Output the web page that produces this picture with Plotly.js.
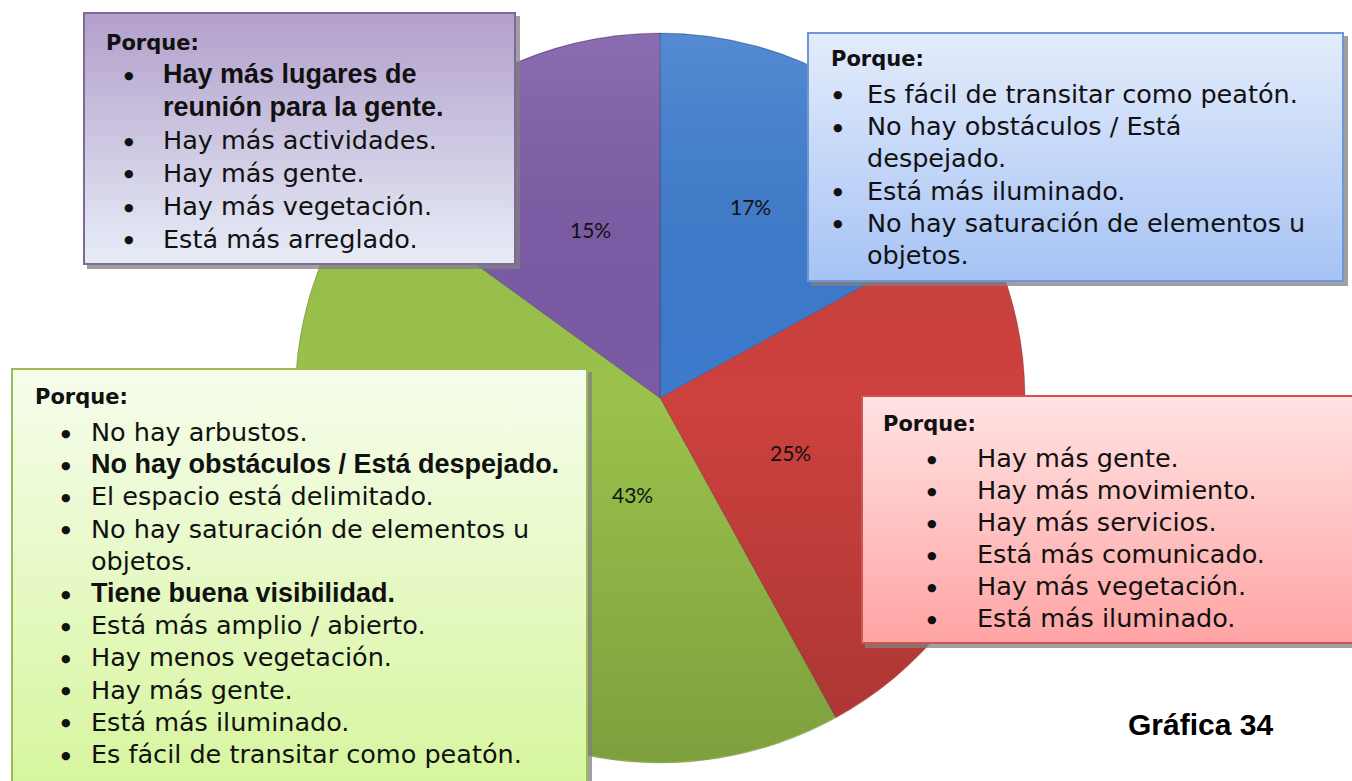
<!DOCTYPE html>
<html>
<head>
<meta charset="utf-8">
<script src="https://cdn.plot.ly/plotly-3.0.1.min.js"></script>
<style>
  body { margin: 0; background: #fff; }
  #grafica { width: 1352px; height: 781px; }
</style>
</head>
<body>
<div id="grafica"></div>
<script>
// datos de la gráfica (orden horario desde las 12)
var categorias = ['Azul', 'Rojo', 'Verde', 'Morado'];
var porcentajes = [17, 25, 43, 15];
var colores = ['#3d7bcd', '#cd413e', '#9ac24b', '#7b5aa6'];

// razones de cada recuadro ("\n" = la frase sigue en otra linea)
var razonesMorado = [
  '<b>Hay más lugares de</b>\n<b>reunión para la gente.</b>',
  'Hay más actividades.',
  'Hay más gente.',
  'Hay más vegetación.',
  'Está más arreglado.'
];
var razonesAzul = [
  'Es fácil de transitar como peatón.',
  'No hay obstáculos / Está\ndespejado.',
  'Está más iluminado.',
  'No hay saturación de elementos u\nobjetos.'
];
var razonesRojo = [
  'Hay más gente.',
  'Hay más movimiento.',
  'Hay más servicios.',
  'Está más comunicado.',
  'Hay más vegetación.',
  'Está más iluminado.'
];
var razonesVerde = [
  'No hay arbustos.',
  '<b>No hay obstáculos / Está despejado.</b>',
  'El espacio está delimitado.',
  'No hay saturación de elementos u\nobjetos.',
  '<b>Tiene buena visibilidad.</b>',
  'Está más amplio / abierto.',
  'Hay menos vegetación.',
  'Hay más gente.',
  'Está más iluminado.',
  'Es fácil de transitar como peatón.'
];

var W = 1352, H = 781;
function px(x) { return x / W; }
function py(y) { return 1 - y / H; }

var fuente = 'DejaVu Sans, sans-serif';
var fuenteNegrita = 'Liberation Sans, Arial, sans-serif';
var imagenes = [];
var notas = [];

// fondo con degradado, borde y sombra para cada recuadro
function fondo(w, h, cArriba, cAbajo, borde) {
  var svg = '<svg xmlns="http://www.w3.org/2000/svg" width="' + (w + 4) + '" height="' + (h + 4) +
    '" viewBox="0 0 ' + (w + 4) + ' ' + (h + 4) + '" preserveAspectRatio="none">' +
    '<defs><linearGradient id="g" x1="0" y1="0" x2="0" y2="1">' +
    '<stop offset="0" stop-color="' + cArriba + '"/><stop offset="1" stop-color="' + cAbajo + '"/>' +
    '</linearGradient></defs>' +
    '<rect x="4" y="4" width="' + w + '" height="' + h + '" fill="#808080" opacity="0.75"/>' +
    '<rect x="1" y="1" width="' + (w - 2) + '" height="' + (h - 2) + '" fill="url(#g)" stroke="' + borde + '" stroke-width="2"/>' +
    '</svg>';
  return 'data:image/svg+xml;charset=utf-8,' + encodeURIComponent(svg);
}

function recuadro(c) {
  imagenes.push({
    source: fondo(c.w, c.h, c.arriba, c.abajo, c.borde),
    xref: 'paper', yref: 'paper', x: px(c.x), y: py(c.y),
    sizex: (c.w + 4) / W, sizey: (c.h + 4) / H,
    xanchor: 'left', yanchor: 'top', sizing: 'stretch', layer: 'above'
  });
  notas.push({
    text: '<b>Porque:</b>', x: px(c.px), y: py(c.py), xref: 'paper', yref: 'paper',
    xanchor: 'left', yanchor: 'middle', showarrow: false,
    font: { family: fuente, size: 21, color: '#111' }
  });
  var k = 0;
  c.razones.forEach(function (r) {
    r.split('\n').forEach(function (linea, j) {
      var y = c.y0 + k * c.paso;
      if (j === 0) {
        notas.push({
          text: '●', x: px(c.xb), y: py(y + 1), xref: 'paper', yref: 'paper',
          xanchor: 'center', yanchor: 'middle', showarrow: false,
          font: { family: fuente, size: 11, color: '#111' }
        });
      }
      var negrita = linea.indexOf('<b>') >= 0;
      notas.push({
        text: linea, x: px(c.xt), y: py(y), xref: 'paper', yref: 'paper',
        xanchor: 'left', yanchor: 'middle', showarrow: false,
        font: { family: negrita ? fuenteNegrita : fuente, size: negrita ? 27 : 25.5, color: '#111' }
      });
      k++;
    });
  });
}

// sombreado suave sobre el pastel
var sombreado = '<svg xmlns="http://www.w3.org/2000/svg" width="730" height="730" viewBox="0 0 730 730">' +
  '<defs><linearGradient id="s" x1="0" y1="0" x2="0" y2="1">' +
  '<stop offset="0" stop-color="#ffffff" stop-opacity="0.12"/>' +
  '<stop offset="0.5" stop-color="#000000" stop-opacity="0"/>' +
  '<stop offset="1" stop-color="#000000" stop-opacity="0.18"/>' +
  '</linearGradient></defs><circle cx="365" cy="365" r="364" fill="url(#s)"/></svg>';
imagenes.push({
  source: 'data:image/svg+xml;charset=utf-8,' + encodeURIComponent(sombreado),
  xref: 'paper', yref: 'paper', x: px(295), y: py(33), sizex: 730 / W, sizey: 730 / H,
  xanchor: 'left', yanchor: 'top', sizing: 'stretch', layer: 'above'
});

recuadro({ x: 83, y: 12, w: 433, h: 253, arriba: '#b29fcb', abajo: '#e7edf7', borde: '#7d6a99',
  px: 104, py: 43, xb: 129, xt: 161, y0: 74, paso: 33, razones: razonesMorado });
recuadro({ x: 807, y: 32, w: 537, h: 250, arriba: '#e4ecfb', abajo: '#a6c3f5', borde: '#6f97d6',
  px: 829, py: 59, xb: 838, xt: 865, y0: 94, paso: 32.2, razones: razonesAzul });
recuadro({ x: 861, y: 395, w: 500, h: 249, arriba: '#ffe3e3', abajo: '#ffa4a4', borde: '#cf5555',
  px: 881, py: 424, xb: 932, xt: 975, y0: 458, paso: 32, razones: razonesRojo });
recuadro({ x: 11, y: 368, w: 577, h: 430, arriba: '#f6fdec', abajo: '#d6f59c', borde: '#9bbb59',
  px: 33, py: 397, xb: 66, xt: 89, y0: 432, paso: 32.2, razones: razonesVerde });

// etiquetas de porcentaje
var total = porcentajes.reduce(function (a, b) { return a + b; }, 0);
var posEtiquetas = [[750, 206], [790, 453], [632, 494], [590, 229]];
porcentajes.forEach(function (v, i) {
  notas.push({
    text: Math.round(v / total * 100) + '%', x: px(posEtiquetas[i][0]), y: py(posEtiquetas[i][1]),
    xref: 'paper', yref: 'paper', xanchor: 'center', yanchor: 'middle', showarrow: false,
    font: { family: 'Lato, sans-serif', size: 21, color: '#111' }
  });
});

notas.push({
  text: '<b>Gráfica 34</b>', x: px(1200), y: py(724), xref: 'paper', yref: 'paper',
  xanchor: 'center', yanchor: 'middle', showarrow: false,
  font: { family: fuenteNegrita, size: 30, color: '#000' }
});

var datos = [{
  type: 'pie',
  values: porcentajes,
  labels: categorias,
  sort: false,
  direction: 'clockwise',
  rotation: 0,
  textinfo: 'none',
  hoverinfo: 'label+percent',
  marker: { colors: colores, line: { color: 'rgba(0,0,0,0.2)', width: 1 } },
  domain: { x: [px(295), px(1025)], y: [py(763), py(33)] }
}];

var disposicion = {
  width: W,
  height: H,
  margin: { l: 0, r: 0, t: 0, b: 0 },
  paper_bgcolor: '#ffffff',
  showlegend: false,
  images: imagenes,
  annotations: notas
};

Plotly.newPlot('grafica', datos, disposicion, { displayModeBar: false, staticPlot: true });
</script>
</body>
</html>
